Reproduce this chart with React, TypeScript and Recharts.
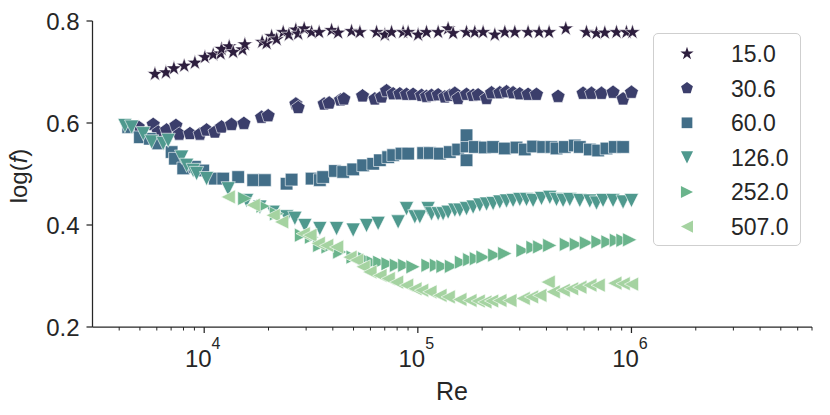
import React from 'react';
import { ScatterChart, Scatter, XAxis, YAxis, Legend } from 'recharts';

const FONT = '"Liberation Sans", Arial, Helvetica, sans-serif';
const INK = '#262626';

// ---- data ----
const labels = ['15.0', '30.6', '60.0', '126.0', '252.0', '507.0'];
const colors = ['#2d1e3e', '#3b3e6b', '#426e88', '#4f998e', '#6ab48c', '#a5d3a1'];
const shapes = ['star', 'pentagon', 'square', 'tridown', 'triright', 'trileft'];

const re15 = [5880, 6620, 7215, 8060, 9046, 10080, 11020, 11930, 12060, 13090, 13670, 15120, 15500, 18680, 19590, 20680, 21830, 23430, 24910, 26860, 27540, 29380, 31820, 34520, 39470, 42370, 48950, 53550, 64090, 70070, 75330, 85330, 90070, 100300, 109800, 124500, 138600, 146300, 169000, 184800, 202100, 229300, 255400, 284400, 328200, 369500, 411600, 492600, 615800, 686000, 750300, 851100, 947600, 1011000];
const f15 = [0.696, 0.699, 0.707, 0.712, 0.718, 0.729, 0.734, 0.736, 0.745, 0.750, 0.739, 0.744, 0.754, 0.759, 0.756, 0.770, 0.764, 0.778, 0.773, 0.783, 0.775, 0.785, 0.778, 0.778, 0.782, 0.777, 0.780, 0.778, 0.778, 0.773, 0.778, 0.778, 0.778, 0.773, 0.778, 0.778, 0.785, 0.776, 0.778, 0.778, 0.778, 0.773, 0.778, 0.778, 0.778, 0.778, 0.778, 0.785, 0.778, 0.776, 0.777, 0.778, 0.778, 0.778];

const re30 = [4911, 5772, 6089, 6668, 7372, 7638, 8573, 9548, 10260, 11220, 12060, 13430, 15340, 18560, 19930, 26860, 27540, 36440, 38460, 43480, 45060, 55110, 62930, 67640, 71380, 76640, 82370, 88530, 95060, 104100, 109800, 115900, 124500, 133800, 141100, 149000, 154400, 169000, 181500, 191500, 209700, 221300, 241900, 260100, 279200, 300100, 328200, 359300, 453500, 593700, 650000, 723900, 820100, 913500, 1000000];
const f30 = [0.592, 0.597, 0.582, 0.586, 0.595, 0.578, 0.579, 0.578, 0.586, 0.582, 0.592, 0.597, 0.599, 0.611, 0.614, 0.637, 0.630, 0.637, 0.639, 0.645, 0.647, 0.653, 0.647, 0.651, 0.663, 0.657, 0.657, 0.656, 0.656, 0.654, 0.652, 0.654, 0.655, 0.651, 0.654, 0.658, 0.648, 0.656, 0.654, 0.655, 0.648, 0.659, 0.659, 0.661, 0.659, 0.657, 0.656, 0.656, 0.652, 0.658, 0.658, 0.658, 0.660, 0.647, 0.660];

const re60 = [4409, 5001, 5568, 6089, 7038, 7294, 7977, 9046, 9893, 11220, 12270, 14420, 16960, 19230, 24300, 25650, 31820, 34780, 36050, 40900, 44720, 49810, 55460, 61780, 66410, 72610, 76640, 83890, 90070, 105900, 113800, 126800, 141100, 154400, 169000, 169000, 169000, 184800, 205800, 225100, 255400, 289700, 316700, 346400, 385800, 422300, 445700, 487500, 542900, 573000, 638200, 698000, 763800, 835300, 913500];
const f60 = [0.592, 0.572, 0.569, 0.560, 0.543, 0.530, 0.511, 0.514, 0.507, 0.491, 0.491, 0.494, 0.488, 0.488, 0.481, 0.489, 0.491, 0.488, 0.494, 0.506, 0.504, 0.509, 0.517, 0.520, 0.527, 0.533, 0.537, 0.540, 0.540, 0.541, 0.541, 0.540, 0.543, 0.548, 0.554, 0.576, 0.527, 0.553, 0.552, 0.553, 0.550, 0.552, 0.548, 0.554, 0.553, 0.553, 0.550, 0.553, 0.556, 0.553, 0.548, 0.546, 0.550, 0.553, 0.553];

const re126 = [4255, 4574, 5185, 5674, 6428, 6783, 7839, 8272, 8882, 9213, 10260, 12950, 15790, 18230, 21030, 24300, 26570, 29600, 34780, 41650, 49810, 57530, 65200, 80870, 88530, 96830, 102200, 111700, 115900, 124500, 131300, 138600, 149000, 157200, 169000, 181500, 195000, 209700, 225100, 241900, 260100, 279200, 300100, 322600, 346400, 379200, 414700, 445700, 478600, 514400, 573000, 638200, 686000, 736300, 820100, 913500, 1000000];
const f126 = [0.595, 0.592, 0.579, 0.563, 0.560, 0.566, 0.533, 0.517, 0.507, 0.501, 0.491, 0.471, 0.448, 0.435, 0.425, 0.416, 0.413, 0.399, 0.393, 0.393, 0.390, 0.399, 0.403, 0.406, 0.432, 0.416, 0.416, 0.432, 0.422, 0.422, 0.422, 0.425, 0.429, 0.429, 0.432, 0.435, 0.439, 0.441, 0.442, 0.445, 0.447, 0.448, 0.450, 0.450, 0.448, 0.452, 0.454, 0.450, 0.448, 0.450, 0.448, 0.447, 0.443, 0.448, 0.448, 0.445, 0.448];

const re252 = [15500, 18880, 21830, 28560, 31820, 34780, 38040, 43150, 49810, 56490, 61780, 66410, 72610, 79490, 86940, 95060, 111700, 122400, 131300, 143800, 160200, 175100, 188200, 202100, 229300, 255400, 311000, 346400, 372300, 414700, 496300, 552800, 615800, 698000, 777100, 851100, 913500, 981800];
const f252 = [0.452, 0.437, 0.422, 0.380, 0.376, 0.360, 0.357, 0.347, 0.337, 0.334, 0.327, 0.327, 0.324, 0.321, 0.321, 0.318, 0.321, 0.321, 0.319, 0.319, 0.327, 0.332, 0.334, 0.337, 0.341, 0.344, 0.350, 0.356, 0.357, 0.360, 0.362, 0.362, 0.365, 0.367, 0.367, 0.370, 0.370, 0.371];

const re507 = [12950, 16960, 21030, 23030, 29060, 31230, 34160, 37400, 41650, 48070, 51680, 55460, 59620, 66410, 72610, 79490, 88530, 96830, 104100, 113800, 126800, 138600, 157200, 175100, 191500, 205800, 221300, 241900, 269500, 311000, 340400, 372300, 407200, 429800, 478600, 523900, 573000, 638200, 698000, 835300, 913500, 1000000];
const f507 = [0.455, 0.439, 0.419, 0.406, 0.383, 0.380, 0.364, 0.360, 0.357, 0.337, 0.331, 0.318, 0.308, 0.301, 0.295, 0.288, 0.282, 0.275, 0.272, 0.269, 0.262, 0.259, 0.254, 0.252, 0.251, 0.249, 0.251, 0.252, 0.252, 0.256, 0.259, 0.262, 0.288, 0.269, 0.272, 0.275, 0.278, 0.282, 0.282, 0.286, 0.285, 0.284];

const xMajorTicks = [1e4, 1e5, 1e6];
const xMinorTicks = [4000, 5000, 6000, 7000, 8000, 9000, 2e4, 3e4, 4e4, 5e4, 6e4, 7e4, 8e4, 9e4, 2e5, 3e5, 4e5, 5e5, 6e5, 7e5, 8e5, 9e5, 2e6, 3e6, 4e6, 5e6, 6e6, 7e6];
const yTicks = [0.2, 0.4, 0.6, 0.8];

const reList = [re15, re30, re60, re126, re252, re507];
const fList = [f15, f30, f60, f126, f252, f507];

// ---- markers ----
function shapePath(shape: string, cx: number, cy: number, k: number): string {
  const pts: [number, number][] = [];
  if (shape === 'star') {
    const R = 8.2 * k, r = R * 0.382;
    for (let i = 0; i < 10; i++) {
      const a = -Math.PI / 2 + (i * Math.PI) / 5;
      const rr = i % 2 === 0 ? R : r;
      pts.push([cx + rr * Math.cos(a), cy + rr * Math.sin(a)]);
    }
  } else if (shape === 'pentagon') {
    const R = 7.3 * k;
    for (let i = 0; i < 5; i++) {
      const a = -Math.PI / 2 + (i * 2 * Math.PI) / 5;
      pts.push([cx + R * Math.cos(a), cy + R * Math.sin(a)]);
    }
  } else if (shape === 'square') {
    const h = 6.3 * k;
    pts.push([cx - h, cy - h], [cx + h, cy - h], [cx + h, cy + h], [cx - h, cy + h]);
  } else if (shape === 'tridown') {
    const h = 7.1 * k;
    pts.push([cx, cy + h], [cx - h, cy - h], [cx + h, cy - h]);
  } else if (shape === 'triright') {
    const h = 7.1 * k;
    pts.push([cx + h, cy], [cx - h, cy - h], [cx - h, cy + h]);
  } else {
    const h = 7.1 * k;
    pts.push([cx - h, cy], [cx + h, cy - h], [cx + h, cy + h]);
  }
  return 'M' + pts.map((p) => p[0].toFixed(2) + ',' + p[1].toFixed(2)).join('L') + 'Z';
}

const makeShape = (shape: string, color: string) => (props: any) => {
  const { cx, cy } = props;
  if (cx == null || cy == null) return <g />;
  return <path d={shapePath(shape, cx, cy, 1)} fill={color} stroke="#ffffff" strokeWidth={0.6} />;
};

const XTick = (props: any) => {
  const { x, y, payload } = props;
  const v = payload.value;
  const exp = Math.round(Math.log10(v));
  const major = Math.abs(Math.pow(10, exp) - v) < 1e-6 * v;
  return (
    <g>
      <line x1={x} x2={x} y1={y} y2={y + (major ? 6 : 3.5)} stroke={INK} strokeWidth={major ? 1.25 : 1} />
      {major && (
        <text x={x - 1.5} y={y + 40} textAnchor="middle" fontSize={24} fill={INK} fontFamily={FONT}>
          <tspan>10</tspan>
          <tspan dy={-18.4} fontSize={16}>{exp}</tspan>
        </text>
      )}
    </g>
  );
};

const renderLegend = () => (
  <div
    style={{
      width: 148,
      height: 213,
      boxSizing: 'border-box',
      border: '1px solid #cfcfcf',
      borderRadius: 5,
      background: '#fff',
      position: 'relative',
    }}
  >
    <svg width={148} height={213} style={{ position: 'absolute', left: -1, top: -1 }}>
      {labels.map((lab, i) => {
        const cy = 20.6 + i * 34.6;
        return (
          <g key={lab}>
            <path d={shapePath(shapes[i], 34, cy, 0.85)} fill={colors[i]} />
            <text x={78} y={cy + 8.3} fontSize={23} fill={INK} fontFamily={FONT}>
              {lab}
            </text>
          </g>
        );
      })}
    </svg>
  </div>
);

export default function App() {
  const allXTicks = [...xMajorTicks, ...xMinorTicks].sort((a, b) => a - b);
  return (
    <div style={{ position: 'absolute', left: 0, top: 0, width: 830, height: 415, background: '#fff', fontFamily: FONT }}>
      <ScatterChart width={830} height={415} margin={{ top: 21, right: 18, bottom: 0, left: 0 }}>
        <XAxis
          type="number"
          dataKey="x"
          scale="log"
          domain={[3000, 7000000]}
          allowDataOverflow
          ticks={allXTicks}
          interval={0}
          tickLine={false}
          tickSize={0}
          tickMargin={0}
          axisLine={{ stroke: INK, strokeWidth: 1.25 }}
          tick={<XTick />}
          height={88}
          label={{
            content: () => (
              <text x={452} y={400} textAnchor="middle" fontSize={25} fill={INK} fontFamily={FONT}>
                Re
              </text>
            ),
          }}
        />
        <YAxis
          type="number"
          dataKey="y"
          domain={[0.2, 0.8]}
          allowDataOverflow
          ticks={yTicks}
          interval={0}
          width={92.5}
          tickSize={6}
          tickMargin={7}
          tickFormatter={(v: number) => v.toFixed(1)}
          tickLine={{ stroke: INK, strokeWidth: 1.25 }}
          axisLine={{ stroke: INK, strokeWidth: 1.25 }}
          tick={{ fontSize: 24, fill: INK, fontFamily: FONT }}
          label={{
            content: () => (
              <text transform="translate(27,176) rotate(-90)" textAnchor="middle" fontSize={24} fill={INK} fontFamily={FONT}>
                log(<tspan fontStyle="italic">f</tspan>)
              </text>
            ),
          }}
        />
        <Legend
          layout="horizontal"
          verticalAlign="middle"
          align="center"
          content={renderLegend}
          wrapperStyle={{ position: 'absolute', left: 652.7, top: 32.7, width: 148, height: 213 }}
        />
        {labels.map((lab, i) => (
          <Scatter
            key={lab}
            name={lab}
            data={reList[i].map((x, j) => ({ x, y: fList[i][j] }))}
            fill={colors[i]}
            shape={makeShape(shapes[i], colors[i])}
            isAnimationActive={false}
          />
        ))}
      </ScatterChart>
    </div>
  );
}
